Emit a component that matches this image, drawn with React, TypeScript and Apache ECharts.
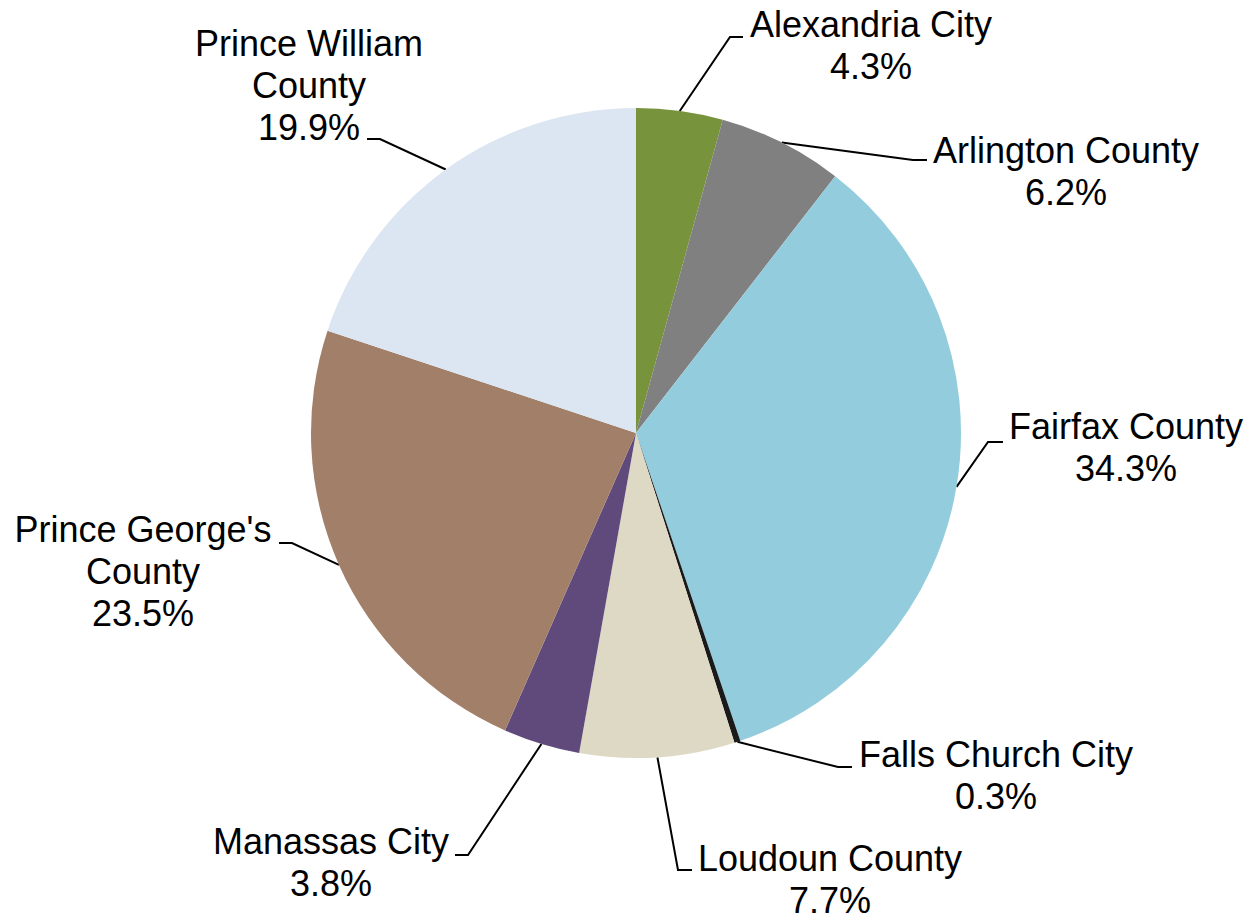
import React, { useEffect, useRef } from "react";
import * as echarts from "echarts";

// ---- data ----
const counties = [
  "Alexandria City",
  "Arlington County",
  "Fairfax County",
  "Falls Church City",
  "Loudoun County",
  "Manassas City",
  "Prince George's County",
  "Prince William County",
];
const shares = [4.3, 6.2, 34.3, 0.3, 7.7, 3.8, 23.5, 19.9];
const labelTexts = [
  "Alexandria City",
  "Arlington County",
  "Fairfax County",
  "Falls Church City",
  "Loudoun County",
  "Manassas City",
  "Prince George's\nCounty",
  "Prince William\nCounty",
];

// ---- styles / layout ----
const sliceColors = [
  "#77933C",
  "#808080",
  "#93CDDD",
  "#1A1A1A",
  "#DDD9C4",
  "#604A7B",
  "#A27F69",
  "#DCE6F2",
];
// label block centres [x, y]
const labelCenters = [
  [871, 45],
  [1066, 171],
  [1126, 447],
  [996, 775],
  [830, 879],
  [331, 862],
  [143, 571],
  [309, 85],
];
// leader line: [endX, y, elbowX]
const leaderEnds = [
  [743, 37, 730],
  [927, 160, 913],
  [1003, 442, 988],
  [852, 767, 838],
  [692, 870, 678],
  [455, 855, 468],
  [279, 543, 292],
  [367, 139, 380],
];

export default function App() {
  const ref = useRef<HTMLDivElement>(null);
  useEffect(() => {
    if (!ref.current) return;
    const chart = echarts.init(ref.current, undefined, { renderer: "svg" });
    chart.setOption({
      animation: false,
      backgroundColor: "#ffffff",
      series: [
        {
          type: "pie",
          center: [636, 433],
          radius: 325,
          startAngle: 90,
          clockwise: true,
          avoidLabelOverlap: false,
          percentPrecision: 1,
          data: counties.map((name, i) => ({
            name,
            value: shares[i],
            itemStyle: { color: sliceColors[i] },
          })),
          label: {
            show: true,
            position: "outside",
            color: "#000000",
            fontFamily: "Arial, 'Liberation Sans', sans-serif",
            fontSize: 36,
            lineHeight: 42,
            align: "center",
            formatter: (p: any) => `${labelTexts[p.dataIndex]}\n${Number(p.percent).toFixed(1)}%`,
          },
          labelLine: {
            show: true,
            length: 20,
            length2: 15,
            lineStyle: { color: "#000000", width: 2 },
          },
          labelLayout: (params: any) => {
            const i = params.dataIndex;
            const c = labelCenters[i];
            const e = leaderEnds[i];
            const anchor = params.labelLinePoints ? params.labelLinePoints[0] : [e[2], e[1]];
            return {
              x: c[0],
              y: c[1],
              align: "center",
              verticalAlign: "middle",
              labelLinePoints: [anchor, [e[2], e[1]], [e[0], e[1]]],
            };
          },
        },
      ],
    });
    return () => chart.dispose();
  }, []);
  return (
    <div
      ref={ref}
      style={{ position: "fixed", left: 0, top: 0, width: 1251, height: 917 }}
    />
  );
}
